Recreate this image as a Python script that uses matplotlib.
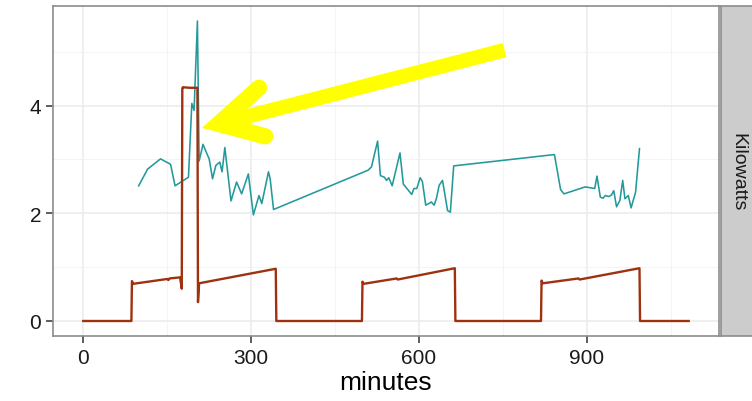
import matplotlib
matplotlib.use("Agg")
import matplotlib.pyplot as plt

plt.rcParams["font.family"] = ["Liberation Sans", "DejaVu Sans"]

# Power draw (stepped series), minutes vs kilowatts
power_min = [0, 86, 87, 89, 150, 152, 154, 173, 176, 177, 178, 190, 204, 205, 207,
             344, 345, 498, 499, 501, 560, 562, 664, 665, 818, 819, 821, 885, 887,
             994, 995, 1082]
power_kw = [0, 0, 0.74, 0.69, 0.78, 0.76, 0.79, 0.81, 0.60, 4.32, 4.34, 4.33, 4.33,
            0.35, 0.70, 0.97, 0, 0, 0.73, 0.69, 0.79, 0.77, 0.98, 0, 0, 0.75, 0.70,
            0.79, 0.77, 0.98, 0, 0]

# Second reading (teal series)
reading_min = [99, 115, 138, 156, 164, 188, 194, 198, 204, 207, 214, 222, 225, 231,
               237, 244, 248, 253, 264, 274, 283, 295, 304, 314, 319, 331, 334, 340,
               509, 515, 526, 531, 538, 542, 546, 552, 566, 572, 587, 591, 596, 602,
               606, 612, 619, 622, 627, 631, 636, 642, 651, 656, 662, 842, 853, 859,
               897, 914, 918, 924, 929, 933, 939, 944, 948, 953, 959, 964, 968, 974,
               979, 987, 994]
reading_kw = [2.51, 2.82, 3.01, 2.91, 2.51, 2.67, 4.04, 3.91, 5.57, 2.97, 3.28, 3.08,
              3.01, 2.64, 2.89, 2.95, 2.77, 3.22, 2.23, 2.58, 2.36, 2.73, 1.97, 2.33,
              2.18, 2.77, 2.64, 2.07, 2.80, 2.86, 3.34, 2.70, 2.67, 2.61, 2.66, 2.51,
              3.12, 2.54, 2.35, 2.46, 2.46, 2.66, 2.59, 2.15, 2.19, 2.21, 2.15, 2.27,
              2.52, 2.61, 2.05, 2.02, 2.88, 3.09, 2.44, 2.36, 2.49, 2.46, 2.69, 2.30,
              2.28, 2.33, 2.31, 2.34, 2.42, 2.12, 2.24, 2.61, 2.27, 2.33, 2.10, 2.39,
              3.20]

x_ticks = [0, 300, 600, 900]
y_ticks = [0, 2, 4]

# yellow pointer (shaft end, head vertex, and the two barb ends)
arrow_tail = (753, 5.03)
arrow_tip = (242, 3.66)
barb_upper = (314, 4.33)
barb_lower = (325, 3.43)

fig = plt.figure(figsize=(7.52, 4.02), dpi=100)
ax = fig.add_axes([53 / 752, 1 - 337 / 402, 666 / 752, 330 / 402])

ax.plot(reading_min, reading_kw, color="#23999B", lw=1.15, zorder=3)
ax.plot(power_min, power_kw, color="#9E3210", lw=1.7, zorder=4)

# arrow drawn as thick strokes: flat-ended shaft, round-capped barbs, sharp tip
ax.plot([arrow_tail[0], arrow_tip[0]], [arrow_tail[1], arrow_tip[1]],
        color="#FFFF00", lw=10.5, solid_capstyle="butt", zorder=5)
ax.plot([barb_upper[0], arrow_tip[0], barb_lower[0]],
        [barb_upper[1], arrow_tip[1], barb_lower[1]],
        color="#FFFF00", lw=11.8, solid_capstyle="round", solid_joinstyle="miter",
        zorder=5)

lo, hi = min(power_min), max(power_min)
pad = (hi - lo) * 0.05
ax.set_xlim(lo - pad, hi + pad)
ymax = max(reading_kw)
ax.set_ylim(-ymax * 0.05, ymax * 1.05)

ax.set_xticks(x_ticks)
ax.set_yticks(y_ticks)
ax.set_xticks([150, 450, 750, 1050], minor=True)
ax.set_yticks([1, 3, 5], minor=True)
ax.grid(which="major", color="#EBEBEB", lw=1.1, zorder=0)
ax.grid(which="minor", color="#F2F2F2", lw=0.6, zorder=0)
ax.tick_params(which="minor", length=0)
ax.tick_params(which="major", labelsize=15, colors="#1A1A1A", length=5, width=1.1,
               color="#333333")
for s in ax.spines.values():
    s.set_color("#8C8C8C")
    s.set_linewidth(1.2)
ax.set_axisbelow(True)
ax.set_xlabel("minutes", fontsize=19, labelpad=2)

# facet strip on the right
strip = fig.add_axes([721 / 752, 1 - 337 / 402, 40 / 752, 330 / 402])
strip.set_facecolor("#CCCCCC")
strip.set_xticks([])
strip.set_yticks([])
for s in strip.spines.values():
    s.set_color("#8C8C8C")
    s.set_linewidth(1.2)
strip.text(17 / 40, 0.5, "Kilowatts", rotation=-90, ha="center", va="center",
           fontsize=14, color="#1A1A1A", transform=strip.transAxes)

fig.savefig("out.png", dpi=100)
